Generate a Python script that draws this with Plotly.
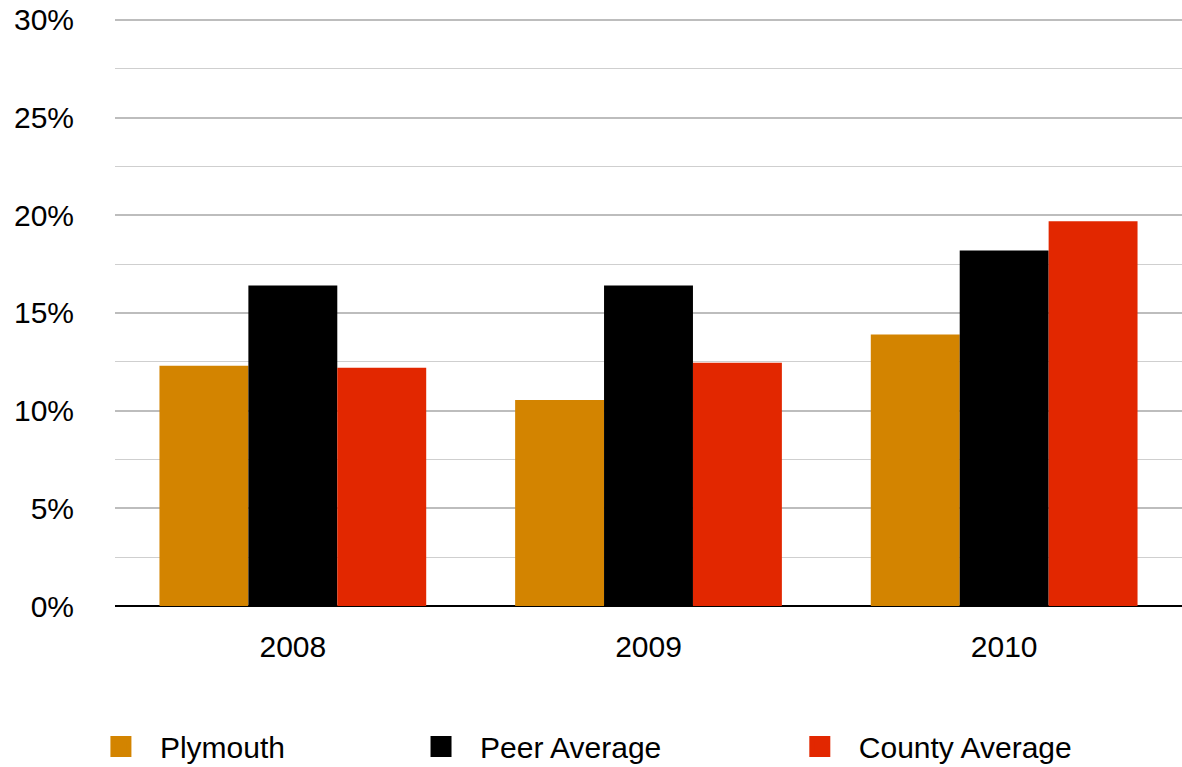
import plotly.graph_objects as go

years = ["2008", "2009", "2010"]
series_names = ["Plymouth", "Peer Average", "County Average"]
plymouth = [12.3, 10.55, 13.9]
peer_average = [16.4, 16.4, 18.2]
county_average = [12.2, 12.45, 19.7]
colors = ["#D38400", "#000000", "#E22700"]
y_tick_values = [0, 5, 10, 15, 20, 25, 30]
y_tick_labels = ["0%", "5%", "10%", "15%", "20%", "25%", "30%"]

FONT = "Liberation Sans, Arial, Helvetica, sans-serif"
FS = 30

fig = go.Figure()
values = [plymouth, peer_average, county_average]
legend_ids = ["legend", "legend2", "legend3"]
for name, vals, col, lg in zip(series_names, values, colors, legend_ids):
    fig.add_trace(go.Bar(x=years, y=vals, name=name, marker=dict(color=col, line=dict(width=0)),
                         legendgroup=name, showlegend=False))
    # legend key proxy (square marker)
    fig.add_trace(go.Scatter(x=[None], y=[None], mode="markers", name=name, legendgroup=name,
                             legend=lg, showlegend=True,
                             marker=dict(symbol="square", size=16, color=col,
                                         line=dict(color=col, width=5))))

legend_common = dict(orientation="h", yanchor="middle", xanchor="left", y=-0.2385,
                     font=dict(family=FONT, size=FS, color="#000000"),
                     itemsizing="trace", itemwidth=68, bgcolor="rgba(0,0,0,0)",
                     borderwidth=0)

fig.update_layout(
    width=1182, height=767, autosize=False,
    margin=dict(l=115, r=0, t=17, b=161, autoexpand=False),
    paper_bgcolor="white", plot_bgcolor="white",
    barmode="group", bargap=0.25, bargroupgap=0,
    font=dict(family=FONT, size=FS, color="#000000"),
    legend=dict(x=-0.031, **legend_common),
    legend2=dict(x=0.269, **legend_common),
    legend3=dict(x=0.624, **legend_common),
    xaxis=dict(type="category", showgrid=False, zeroline=False, showline=False,
               ticks="", ticklabelstandoff=20,
               tickfont=dict(family=FONT, size=FS, color="#000000")),
    yaxis=dict(range=[0, 30.15], tickvals=y_tick_values, ticktext=y_tick_labels,
               showgrid=True, gridcolor="#BDBDBD", gridwidth=2,
               minor=dict(dtick=2.5, tick0=0, showgrid=True, gridcolor="#CFCFCF", gridwidth=1),
               zeroline=True, zerolinecolor="#000000", zerolinewidth=2,
               showline=False, ticks="", ticklabelstandoff=40,
               tickfont=dict(family=FONT, size=FS, color="#000000")),
)

post = """
document.body.style.margin = '0';
document.body.style.padding = '0';
document.body.style.overflow = 'hidden';
"""

fig.write_html("out.html", post_script=post,
               config={"responsive": False, "displayModeBar": False})
